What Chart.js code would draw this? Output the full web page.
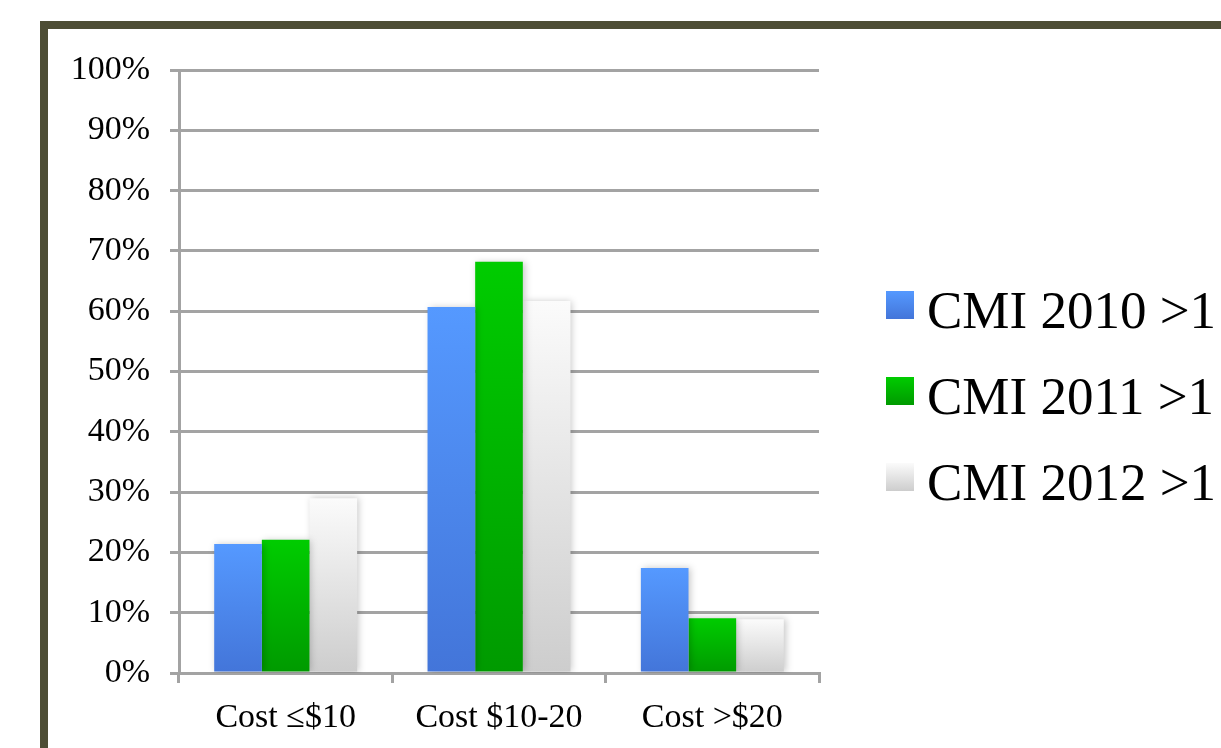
<!DOCTYPE html>
<html>
<head>
<meta charset="utf-8">
<script src="https://cdn.jsdelivr.net/npm/chart.js@4/dist/chart.umd.min.js"></script>
<style>
  html, body { margin: 0; padding: 0; background: #ffffff; overflow: hidden; }
  #frame {
    position: absolute; left: 40px; top: 21px;
    width: 1300px; height: 800px;
    border: 8px solid #4d4d35; background: #ffffff;
  }
  #wrap { position: absolute; left: 0; top: 0; width: 1221px; height: 748px; }
</style>
</head>
<body>
<div id="frame"></div>
<div id="wrap"><canvas id="chart" width="1221" height="748"></canvas></div>
<script>
// Share of items with CMI > 1, by cost band and year (percent)
const categories = ['Cost \u2264$10', 'Cost $10-20', 'Cost >$20'];
const seriesLabels = ['CMI 2010 >1', 'CMI 2011 >1', 'CMI 2012 >1'];
const cmi2010 = [21.4, 60.7, 17.4];
const cmi2011 = [22.1, 68.2, 9.1];
const cmi2012 = [29.0, 61.7, 8.9];
const yTicks = [0, 10, 20, 30, 40, 50, 60, 70, 80, 90, 100];

// top / bottom colours of each series' vertical gradient
const palette = [
  ['#5599ff', '#4375d9'],
  ['#00cc00', '#009a00'],
  ['#fbfbfb', '#cdcdcd']
];

const SERIF = '"Liberation Serif", "Times New Roman", serif';
const GRID = '#a3a3a3';

function barGradient(i) {
  return (ctx) => {
    const chart = ctx.chart;
    const area = chart.chartArea;
    if (!area || ctx.raw == null) return palette[i][0];
    const top = chart.scales.y.getPixelForValue(ctx.raw);
    const g = chart.ctx.createLinearGradient(0, top, 0, area.bottom);
    g.addColorStop(0, palette[i][0]);
    g.addColorStop(1, palette[i][1]);
    return g;
  };
}

// soft shadow behind the bars
const barShadow = {
  id: 'barShadow',
  beforeDatasetsDraw(chart) {
    const c = chart.ctx;
    c.save();
    c.shadowColor = 'rgba(0,0,0,0.22)';
    c.shadowBlur = 7;
    c.shadowOffsetX = 2;
    c.shadowOffsetY = 0;
  },
  afterDatasetsDraw(chart) {
    chart.ctx.restore();
  }
};

// legend on the right: gradient swatch + large serif label
const sideLegend = {
  id: 'sideLegend',
  afterDraw(chart) {
    const c = chart.ctx;
    const x0 = 886, box = 28, textX = 927;
    const rows = [311, 397, 483];
    c.save();
    c.font = '53px ' + SERIF;
    c.fillStyle = '#000000';
    c.textBaseline = 'middle';
    c.textAlign = 'left';
    chart.data.datasets.forEach((ds, i) => {
      const cy = rows[i];
      const top = cy - 6 - box / 2;
      const g = c.createLinearGradient(0, top, 0, top + box);
      g.addColorStop(0, palette[i][0]);
      g.addColorStop(1, palette[i][1]);
      c.fillStyle = g;
      c.fillRect(x0, top, box, box);
      c.fillStyle = '#000000';
      c.fillText(ds.label, textX, cy + 3);
    });
    c.restore();
  }
};

const datasets = [cmi2010, cmi2011, cmi2012].map((vals, i) => ({
  label: seriesLabels[i],
  data: vals,
  backgroundColor: barGradient(i),
  borderWidth: 0,
  categoryPercentage: 0.67,
  barPercentage: 1.0
}));

new Chart(document.getElementById('chart'), {
  type: 'bar',
  data: { labels: categories, datasets },
  plugins: [barShadow, sideLegend],
  options: {
    responsive: false,
    animation: false,
    devicePixelRatio: 1,
    layout: { padding: { left: 70, top: 70, right: 402, bottom: 0 } },
    plugins: {
      legend: { display: false },
      tooltip: { enabled: false }
    },
    scales: {
      x: {
        offset: true,
        grid: {
          offset: true,
          drawOnChartArea: false,
          drawTicks: true,
          tickLength: 10,
          color: GRID,
          lineWidth: 3
        },
        border: { display: true, color: GRID, width: 3 },
        ticks: {
          color: '#000000',
          font: { family: SERIF, size: 34 },
          padding: 15,
          maxRotation: 0
        },
        afterFit(scale) { scale.height = 75; }
      },
      y: {
        min: 0,
        max: 100,
        afterBuildTicks(scale) { scale.ticks = yTicks.map(v => ({ value: v })); },
        grid: {
          drawOnChartArea: true,
          drawTicks: true,
          tickLength: 9,
          color: GRID,
          lineWidth: 3
        },
        border: { display: true, color: GRID, width: 3 },
        ticks: {
          color: '#000000',
          font: { family: SERIF, size: 34 },
          padding: 20,
          callback: (v) => v + '%'
        },
        afterFit(scale) { scale.width = 109; }
      }
    }
  }
});
</script>
</body>
</html>
